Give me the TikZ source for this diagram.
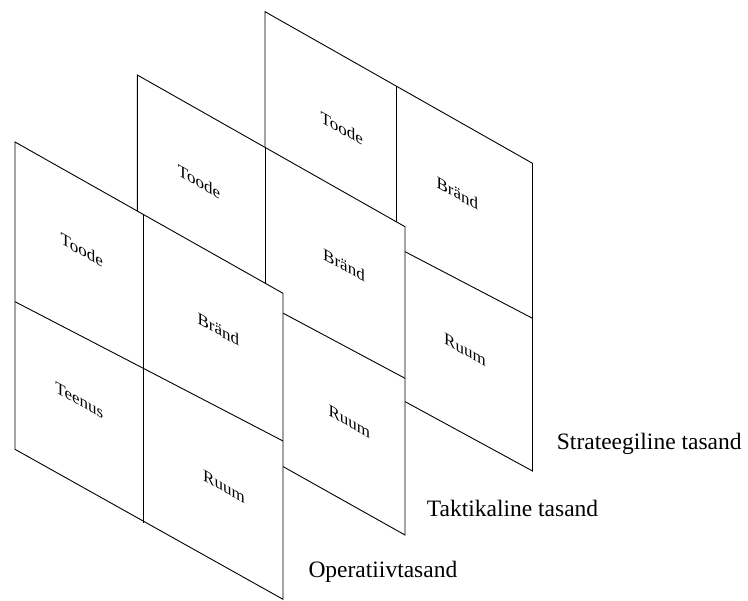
\documentclass[tikz,border=0pt]{standalone}
\usepackage{fontspec}
\setmainfont{Liberation Serif}
\begin{document}
\begin{tikzpicture}[x=1pt,y=-1pt,
  plane/.style={draw=black, line width=0.9pt, fill=white, line join=miter},
  grid/.style={draw=black, line width=0.9pt},
  cell/.style={font=\fontsize{17}{20}\selectfont, yslant=-0.56, inner sep=0pt},
  level/.style={font=\fontsize{23.5}{28}\selectfont, anchor=base west, inner sep=0pt}]
\useasboundingbox (0,0) rectangle (748,601);

% strategic plane (back)
\coordinate (bTL) at (265,11.7);   \coordinate (bTR) at (532.5,163.3);
\coordinate (bBR) at (532.5,471);  \coordinate (bBL) at (265,325.4);
\coordinate (bMT) at (396.7,86.5); \coordinate (bMB) at (396.7,397.1);
\coordinate (bDL) at (265,178.5);  \coordinate (bDR) at (532.5,318.3);
\path[plane] (bTL) -- (bTR) -- (bBR) -- (bBL) -- cycle;
\draw[grid] (bMT) -- (bMB);
\draw[grid] (bDL) -- (bDR);
\node[cell] (bToode) at (341.7,128.3) {Toode};
\node[cell] (bBrand) at (457.3,193.3) {Bränd};
\node[cell] (bRuum)  at (465,350)     {Ruum};

% tactical plane (middle)
\coordinate (mTL) at (137.3,75);   \coordinate (mTR) at (405,226.7);
\coordinate (mBR) at (405,535);    \coordinate (mBL) at (137.3,384.8);
\coordinate (mMT) at (265,147.3);  \coordinate (mMB) at (265,456.4);
\coordinate (mDL) at (137.3,235.3);\coordinate (mDR) at (405,378.3);
\path[plane] (mTL) -- (mTR) -- (mBR) -- (mBL) -- cycle;
\draw[grid] (mMT) -- (mMB);
\draw[grid] (mDL) -- (mDR);
\node[cell] (mToode) at (199,181.7)   {Toode};
\node[cell] (mBrand) at (344,265)     {Bränd};
\node[cell] (mRuum)  at (349.3,421.7) {Ruum};

% operational plane (front)
\coordinate (fTL) at (15,142);     \coordinate (fTR) at (283,293.3);
\coordinate (fBR) at (283,599.3);  \coordinate (fBL) at (15,449.3);
\coordinate (fMT) at (143.3,215);  \coordinate (fMB) at (143.3,522.7);
\coordinate (fDL) at (15,301.7);   \coordinate (fDM) at (143.3,368.3);
\coordinate (fDR) at (283,441);
\path[plane] (fTL) -- (fTR) -- (fBR) -- (fBL) -- cycle;
\draw[grid] (fMT) -- (fMB);
\draw[grid] (fDL) -- (fDM) -- (fDR);
\node[cell] (fToode)  at (81.7,250)   {Toode};
\node[cell] (fBrand)  at (218.3,329.3){Bränd};
\node[cell] (fTeenus) at (79.3,400)   {Teenus};
\node[cell] (fRuum)   at (224,486.7)  {Ruum};

% plane captions
\node[level] (lStrat) at (556.7,450) {Strateegiline tasand};
\node[level] (lTakt)  at (426.7,517) {Taktikaline tasand};
\node[level] (lOper)  at (308.3,578) {Operatiivtasand};
\end{tikzpicture}
\end{document}
